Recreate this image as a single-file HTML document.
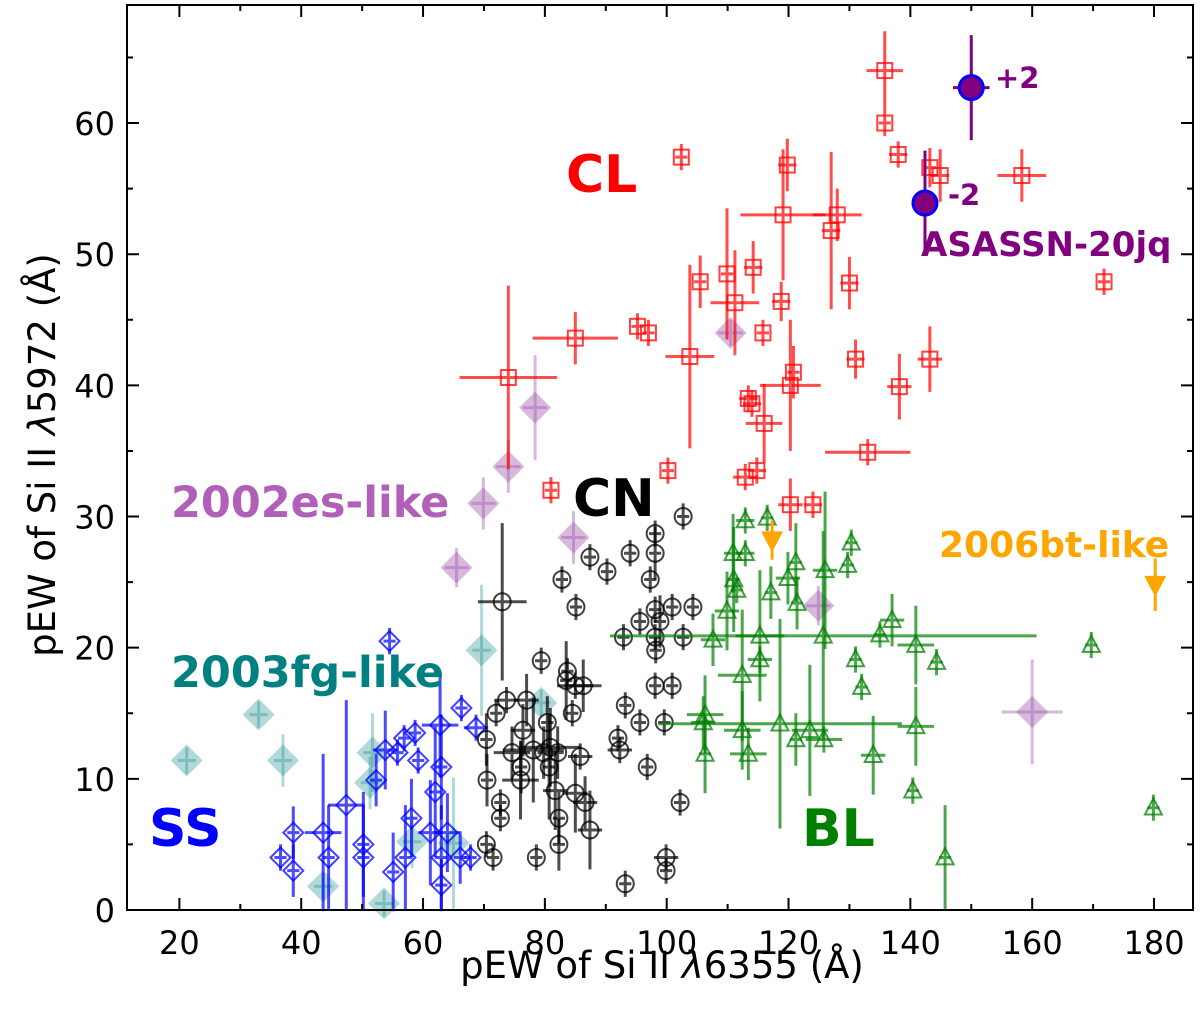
<!DOCTYPE html>
<html><head><meta charset="utf-8"><style>
html,body{margin:0;padding:0;background:#fff}
svg text{font-family:"DejaVu Sans","Liberation Sans",sans-serif}
</style></head><body>
<svg id="chart" width="1200" height="1020" viewBox="0 0 1200 1020" xmlns="http://www.w3.org/2000/svg">
<g id="marks"></g>
<g id="axes"></g>
<text x="566" y="192" font-size="52" font-weight="bold" fill="#ff0000">CL</text>
<text x="573" y="516" font-size="52" font-weight="bold" fill="#000">CN</text>
<text x="149" y="846" font-size="52" font-weight="bold" fill="#0000ff">SS</text>
<text x="802" y="846" font-size="52" font-weight="bold" fill="#008000">BL</text>
<text x="171" y="517" font-size="43" font-weight="bold" fill="#b060b8">2002es-like</text>
<text x="171" y="687" font-size="43" font-weight="bold" fill="#008080">2003fg-like</text>
<text x="939" y="557" font-size="36" font-weight="bold" fill="#ffa500">2006bt-like</text>
<text x="921" y="256" font-size="34" font-weight="bold" fill="#800080">ASASSN-20jq</text>
<text x="995" y="88" font-size="29" font-weight="bold" fill="#800080">+2</text>
<text x="948" y="205" font-size="29" font-weight="bold" fill="#800080">-2</text>
<text x="662" y="978" font-size="37" text-anchor="middle">pEW of Si II <tspan font-style="italic">λ</tspan>6355 (Å)</text>
<text transform="translate(55,455) rotate(-90)" font-size="37" text-anchor="middle">pEW of Si II <tspan font-style="italic">λ</tspan>5972 (Å)</text>
</svg>
<script>
// ---- data ----
const clX=[135.8,135.8,138,143.2,144.9,158.3,102.4,119.8,119.1,128,127,105.5,109.9,111.2,114.2,118.8,130,171.8,115.8,95.2,97,85,103.8,120.8,120.3,131,143.2,138.2,74,113.4,114,116,133,100.2,114.8,112.9,120.3,124,81];
const clY=[64,60,57.6,56.6,56,56,57.4,56.8,53,53,51.8,47.9,48.5,46.3,49,46.4,47.8,47.9,44,44.5,44,43.6,42.2,41,40,42,42,39.9,40.6,39,38.6,37.1,34.9,33.5,33.5,33,30.9,30.9,32];
const clXe=[3,1,1.5,1,1.5,4,1,1.5,7,4,1.5,1,1,4,1.5,1.5,1.5,1,1,1,1,7,4,1,5,1.5,2,2,8,1.5,1.5,3,7,1,1.5,2,2,1.5,1];
const clYe=[3,1,1,1.5,2,2,1,2,5,2,6,2,5,4,2,1.5,2,1,1,1,1,2,7,2,5,1.5,2.5,2.5,7,1,1,3,1,1,1,1,2,1,1];

const cnX=[73,102.7,98.1,98.1,94,87.4,90.2,82.8,97.3,85.1,104.3,100.9,98.1,95.6,98.9,92.9,98.1,102.7,98.2,79.4,83.7,83.5,85,86.3,98.1,100.9,73.7,77,93.2,72,84.5,80.4,95.6,99.6,76.4,70.4,92,80.9,92.3,78.1,74.6,79.8,82.1,85.8,96.8,76.1,80.7,70.5,76,81.7,85,72.7,86.6,102.2,72.7,82.3,87.4,82.3,70.4,71.5,78.6,99.9,99.9,93.2];
const cnY=[23.5,30,28.7,27.2,27.2,26.9,25.8,25.2,25.2,23.1,23.1,23.1,22.9,22,22,20.8,20.8,20.8,19.8,19,18.2,17.5,17.1,17.1,17.1,17.1,16,16,15.6,15,15,14.3,14.3,14.3,13.7,13,13.1,12.4,12.2,12.2,12,12,12,11.7,10.9,10.9,10.9,9.9,9.9,9.1,8.9,8.2,8.2,8.2,7,7,6.1,5,5,4,4,4,3,2];
const cnXe=[4,1,1,1,1,1,1,1,1,1,1,1,1,1,1,1,1,1,1,1,1,1,3,3,1,1,2,2,1,1,1,1,1,1,2,1,1,5,2,5,3,1,1,2,1,1,1,1,3,2,2,1,2,1,1,1,2,1,1,1,1,2,1,1];
const cnYe=[6,1,1,2,1,1,1,1,1,1,1,1,1,1,2,1,1,1,1,1,1,3,1,2,1,1,1,2,1,1,1,2,1,1,2,2,1,3,1,4,2,2,2,1,1,2,4,2,3,3,3,1,2,1,1,2,3,2,1,1,1,1,1,1];

const blX=[112.9,116.5,130.3,110.9,112.9,121.2,126,129.7,119.9,111,111.5,117.1,121.4,109.9,137,135,125.7,115.3,107.6,140.9,144.3,115.3,131,112.4,169.7,132,106.3,112.4,123.5,140.9,106,133.9,121.2,125.8,106.3,113.4,140.4,179.9,145.7,118.6];
const blY=[29.7,29.9,28,27.2,27.2,26.5,25.9,26.3,25.3,25.2,24.4,24.2,23.4,22.8,22.1,21,20.9,20.9,20.6,20.2,18.9,19.1,19.1,17.9,20.2,17,14.9,13.7,13.7,14,14.3,11.8,13,13,11.9,11.9,9.1,7.8,4,14.2];
const blXe=[1.5,1,1,1.5,1.5,1,2,1,2,1,1,1,1,2,2,1,35,4,2,3,1,2,1,4,1,1,3,3,3,3,2,2,1,3,1,3,1,1,1,20];
const blYe=[1,1,1,3,1,3,6,1,2,4,1,2,2,3,2,1,8,5,2,3,1,1,1,5,1,1,3,3,5,3,2,3,2,1,3,2,1,1,4,8];

const ssX=[54.5,66.3,62.8,68.7,58.7,56.9,53.8,55.8,59.2,63,52.3,62,47.4,58.1,38.7,43.6,61.2,64,36.6,44.5,50.2,50.2,57.1,63,66.1,67.8,38.7,55.1,63];
const ssY=[20.5,15.4,14.1,13.9,13.5,13.1,12.2,12,11.4,10.9,9.9,9,8,7,5.9,5.9,5.9,5.9,4,4,5,4,4,4,4,4,3,2.9,1.9];
const ssXe=[1,1,3,2,1,1,2,1,1,1,1,1,3,1,1,3,2,2,1,1,1,1,1,1,1,1,1,1,1];
const ssYe=[1,1,4,1,1,1,3,1,1,4,2,5,8,3,2,6,4,3,1,4,4,4,4,4,2,1,2,3,2];

const esX=[110.5,78.4,74,69.9,84.7,65.5,124.9,160];
const esY=[44,38.3,33.8,31,28.4,26.1,23.2,15.1];
const esXe=[2,2,2,2,2,2,2,5];
const esYe=[1,4,2,2,2,1.5,1.5,4];

const fgX=[69.6,21.2,33,37,79.4,51.7,51.3,58.2,43.6,53.6,65];
const fgY=[19.8,11.4,14.9,11.4,15.8,12,9.7,5.2,1.8,0.5,5.1];
const fgXe=[1.5,1.5,1.5,1.5,1.5,1.5,1.5,1.5,1.5,1.5,1.5];
const fgYe=[5,1,1,2,1,3,2,2,1,1,5];

const btX=[117.3,180.2];
const btY=[28.2,24.8];
const btYe=[1.5,2];

const asX=[150,142.4];
const asY=[62.7,53.9];
const asXe=[3,0];
const asYe=[4,4];

const xTicks=[20,40,60,80,100,120,140,160,180];
const yTicks=[0,10,20,30,40,50,60];

// ---- scales ----
const L=127,R=1193,T=5,B=910;
const X0=11.4,X1=186.4,Y0=0,Y1=69;
const sx=v=>L+(v-X0)/(X1-X0)*(R-L);
const sy=v=>B-(v-Y0)/(Y1-Y0)*(B-T);
const NS='http://www.w3.org/2000/svg';
const marks=document.getElementById('marks');
const axes=document.getElementById('axes');
function mk(tag,attrs,parent){const e=document.createElementNS(NS,tag);for(const k in attrs)e.setAttribute(k,attrs[k]);parent.appendChild(e);return e;}

function series(name,xs,ys,xe,ye,color,shape,size,fill,opacity,ebOpacity){
  const g=mk('g',{},marks);
  
  
  for(let i=0;i<xs.length;i++){
    const cx=sx(xs[i]),cy=sy(ys[i]);
    const dx=xe?Math.abs(sx(xs[i]+xe[i])-cx):0, dy=ye?Math.abs(sy(ys[i]+ye[i])-cy):0;
    const eb=mk('path',{d:`M${cx-dx},${cy}H${cx+dx}M${cx},${cy-dy}V${cy+dy}`,stroke:color,'stroke-width':3,'stroke-opacity':ebOpacity,fill:'none'},g);
    
    
    let m,s=size/2;
    const st={stroke:fill?'none':color,'stroke-width':2,fill:fill||'none',opacity:opacity};
    if(shape==='square')m=mk('rect',Object.assign({x:cx-s,y:cy-s,width:size,height:size},st),g);
    else if(shape==='circle')m=mk('circle',Object.assign({cx:cx,cy:cy,r:s},st),g);
    else if(shape==='tri')m=mk('path',Object.assign({d:`M${cx},${cy-s*1.1}L${cx+s},${cy+s*0.8}L${cx-s},${cy+s*0.8}Z`},st),g);
    else if(shape==='tridown')m=mk('path',Object.assign({d:`M${cx-s},${cy-s*0.8}L${cx+s},${cy-s*0.8}L${cx},${cy+s*1.1}Z`},st),g);
    else if(shape==='diamond')m=mk('path',Object.assign({d:`M${cx},${cy-s}L${cx+s},${cy}L${cx},${cy+s}L${cx-s},${cy}Z`},st),g);
    else if(shape==='dot'){m=mk('circle',{cx:cx,cy:cy,r:s,fill:'#800080',stroke:'#0000ff','stroke-width':3},g);}
    
    
  }
}
series('2003fg',fgX,fgY,fgXe,fgYe,'#008080','diamond',32,'#008080',0.3,0.3);
series('2002es',esX,esY,esXe,esYe,'#9a4fa8','diamond',32,'#9a4fa8',0.4,0.4);
series('ss',ssX,ssY,ssXe,ssYe,'#0000ff','diamond',20,null,0.75,0.7);
series('cn',cnX,cnY,cnXe,cnYe,'#000000','circle',17,null,0.75,0.7);
series('bl',blX,blY,blXe,blYe,'#008000','tri',17,null,0.75,0.7);
series('cl',clX,clY,clXe,clYe,'#ff0000','square',15,null,0.75,0.7);
series('2006bt',btX,btY,null,btYe,'#ffa500','tridown',22,'#ffa500',1,1);
series('asassn-20jq',asX,asY,asXe,asYe,'#800080','dot',24,null,1,1);

// ---- axes ----
const frame=mk('rect',{x:L,y:T,width:R-L,height:B-T,fill:'none',stroke:'#000','stroke-width':2},axes);


for(let v=20;v<=180;v+=10){
  const major=xTicks.includes(v),len=major?12:6,x=sx(v);
  const t=mk('path',{d:`M${x},${B}V${B-len}M${x},${T}V${T+len}`,stroke:'#000','stroke-width':2},axes);
  
  
}
xTicks.forEach(v=>{
  const t=mk('text',{x:sx(v),y:B+44,'font-size':32,'text-anchor':'middle'},axes);
  t.textContent=v;
  
  
});
for(let v=0;v<=65;v+=5){
  const major=yTicks.includes(v),len=major?12:6,y=sy(v);
  const t=mk('path',{d:`M${L},${y}H${L+len}M${R},${y}H${R-len}`,stroke:'#000','stroke-width':2},axes);
  
  
}
yTicks.forEach(v=>{
  const t=mk('text',{x:L-12,y:sy(v)+12,'font-size':32,'text-anchor':'end'},axes);
  t.textContent=v;
  
  
});
</script>
</body></html>
